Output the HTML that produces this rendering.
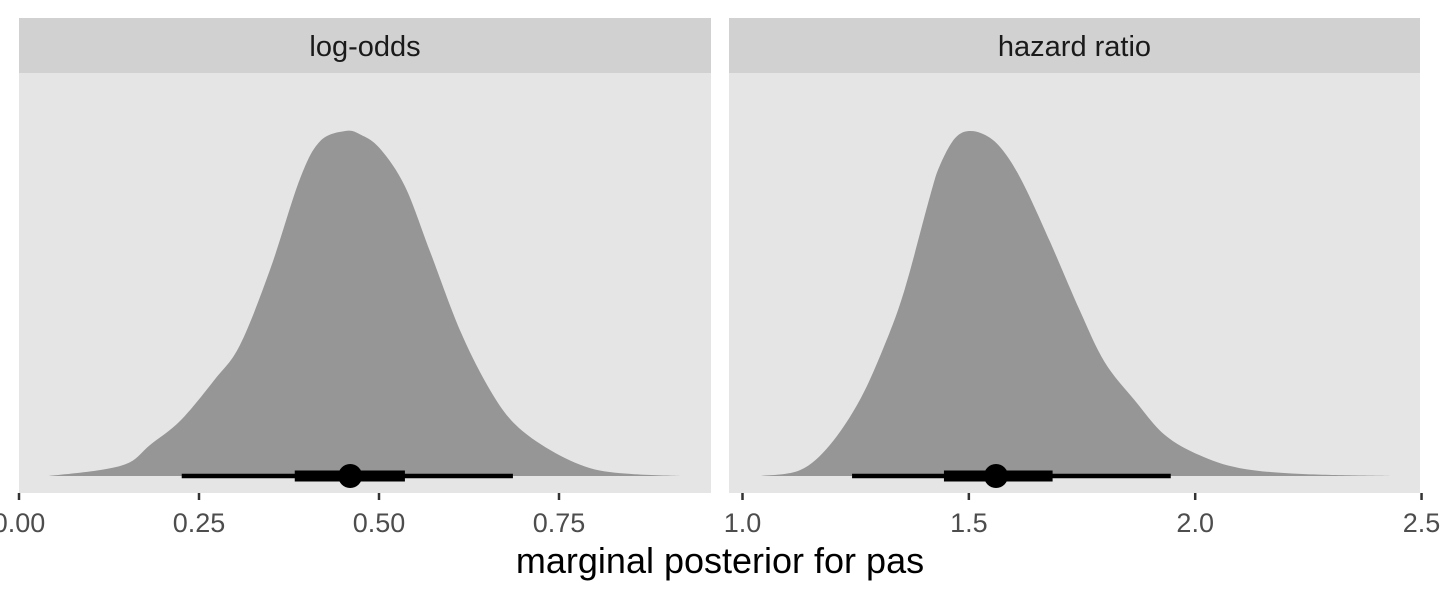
<!DOCTYPE html>
<html><head><meta charset="utf-8"><style>
html,body{margin:0;padding:0;background:#fff;}
svg text{font-family:"Liberation Sans",sans-serif;}
</style></head><body>
<svg id="chart" width="1440" height="600" viewBox="0 0 1440 600"></svg>
<script>
const panelTitles = ["log-odds", "hazard ratio"];
const leftTicks = [0, 0.25, 0.5, 0.75];
const leftTickLabels = ["0.00", "0.25", "0.50", "0.75"];
const rightTicks = [1.0, 1.5, 2.0, 2.5];
const rightTickLabels = ["1.0", "1.5", "2.0", "2.5"];
const leftDensX = [0.041,0.112,0.154,0.182,0.224,0.272,0.307,0.349,0.390,0.418,0.453,0.474,0.501,0.536,0.571,0.613,0.654,0.689,0.738,0.793,0.849,0.918];
const leftDensY = [0,0.017,0.04,0.09,0.16,0.28,0.38,0.60,0.86,0.97,1,0.99,0.95,0.84,0.65,0.42,0.25,0.15,0.075,0.023,0.006,0];
const rightDensX = [1.04,1.127,1.193,1.259,1.314,1.358,1.414,1.436,1.47,1.505,1.547,1.583,1.623,1.679,1.745,1.800,1.866,1.932,2.010,2.098,2.231,2.43];
const rightDensY = [0,0.017,0.09,0.22,0.38,0.54,0.81,0.9,0.98,1,0.98,0.93,0.84,0.68,0.48,0.33,0.22,0.12,0.06,0.023,0.006,0];
const leftInterval = {thinLo:0.226, thinHi:0.686, thickLo:0.383, thickHi:0.536, point:0.46};
const rightInterval = {thinLo:1.242, thinHi:1.946, thickLo:1.445, thickHi:1.685, point:1.56};

const NS="http://www.w3.org/2000/svg";
const svg=document.getElementById('chart');
function mk(tag,attrs,parent){const e=document.createElementNS(NS,tag);for(const k in attrs)e.setAttribute(k,attrs[k]);(parent||svg).appendChild(e);return e;}
const panelTop=73,panelBottom=493,base=476,peak=131;
const yS=v=>base-v*(base-peak);
function smooth(pts){let d=`M${pts[0][0]},${pts[0][1]}`;for(let i=0;i<pts.length-1;i++){const p0=pts[Math.max(0,i-1)],p1=pts[i],p2=pts[i+1],p3=pts[Math.min(pts.length-1,i+2)];const c1=[p1[0]+(p2[0]-p0[0])/6,p1[1]+(p2[1]-p0[1])/6],c2=[p2[0]-(p3[0]-p1[0])/6,p2[1]-(p3[1]-p1[1])/6];d+=`C${c1[0]},${c1[1]} ${c2[0]},${c2[1]} ${p2[0]},${p2[1]}`;}return d;}
function panel(idx,x0,x1,xS,ticks,labels,dx,dy,iv){
  const g=mk('g',{});
  
  
  const strip=mk('rect',{x:x0,y:18,width:x1-x0,height:panelTop-18,fill:'#d1d1d1'},g);
  
  
  const st=mk('text',{x:(x0+x1)/2,y:56,'text-anchor':'middle','font-size':'29',fill:'#1a1a1a'},g);st.textContent=panelTitles[idx];
  
  
  const bg=mk('rect',{x:x0,y:panelTop,width:x1-x0,height:panelBottom-panelTop,fill:'#e5e5e5'},g);
  
  
  const pts=dx.map((v,i)=>[xS(v),yS(dy[i])]);
  const p=mk('path',{d:smooth(pts)+'Z',fill:'#969696'},g);
  
  
  const l1=mk('line',{x1:xS(iv.thinLo),x2:xS(iv.thinHi),y1:base,y2:base,stroke:'#000','stroke-width':4.5},g);
  
  
  const l2=mk('line',{x1:xS(iv.thickLo),x2:xS(iv.thickHi),y1:base,y2:base,stroke:'#000','stroke-width':11},g);
  
  
  const c=mk('circle',{cx:xS(iv.point),cy:base,r:12,fill:'#000'},g);
  
  
  ticks.forEach((t,i)=>{
    const tl=mk('line',{x1:xS(t),x2:xS(t),y1:panelBottom,y2:panelBottom+7,stroke:'#333','stroke-width':2.5},g);
    
    
    const tx=mk('text',{x:xS(t),y:532,'text-anchor':'middle','font-size':'27',fill:'#4d4d4d'},g);tx.textContent=labels[i];
    
    
  });
}
panel(0,19,711,v=>19+v*720,leftTicks,leftTickLabels,leftDensX,leftDensY,leftInterval);
panel(1,729,1420,v=>742.5+(v-1)*452.7,rightTicks,rightTickLabels,rightDensX,rightDensY,rightInterval);
const t=mk('text',{x:720,y:573,'text-anchor':'middle','font-size':'36',fill:'#000'});
t.textContent='marginal posterior for pas';


</script>
</body></html>
